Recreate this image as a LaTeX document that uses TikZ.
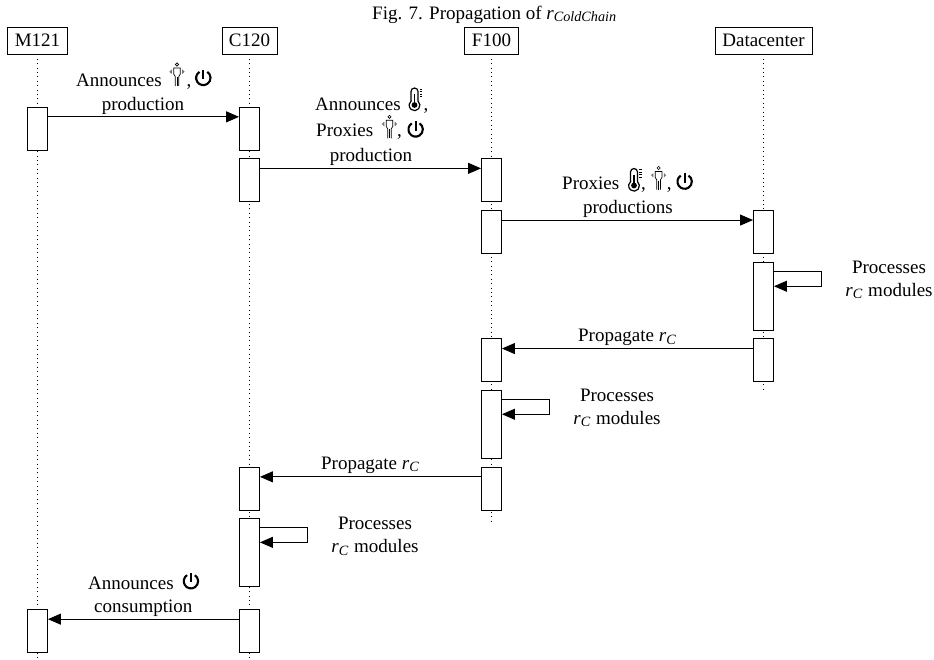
\documentclass[tikz,border=0pt]{standalone}
\usepackage{fontspec}
\setmainfont{Liberation Serif}
\usetikzlibrary{arrows.meta,calc}
\newcommand{\mainsize}{\fontsize{19}{23.5}\selectfont}
\newcommand{\subsize}{\fontsize{14.2}{15}\selectfont}
\newcommand{\subr}[1]{\textit{r}\raisebox{-2.6pt}{\subsize\textit{#1}}}
\tikzset{
  actor/.style={draw=black,line width=0.9pt,fill=white,minimum height=27pt,inner sep=0pt,font=\mainsize},
  bar/.style={draw=black,line width=0.9pt,fill=white,minimum width=20pt,inner sep=0pt},
  life/.style={draw=black,line width=0.7pt,dash pattern=on 0.9pt off 3.5pt},
  msg/.style={draw=black,line width=1pt,-{Triangle[length=13pt,width=11pt]}},
  lbl/.style={inner sep=0pt,anchor=base,font=\mainsize},
  lblw/.style={inner sep=0pt,anchor=base west,font=\mainsize},
}
\newcommand{\powericon}[1]{
  \begin{scope}[shift={(#1)}]
    \draw[line width=2.1pt] (-3.98,-6.12) arc[start angle=237,end angle=-57,radius=7.2];
    \draw[line width=2.1pt] (0,-8.3) -- (0,1);
  \end{scope}}
\newcommand{\thermoicon}[1]{
  \begin{scope}[shift={(#1)}]
    \draw[line width=1.2pt] (-3.5,2.1) -- (-3.5,-7.5) arc[start angle=180,end angle=360,radius=3.5] -- (3.5,2.1)
      arc[start angle=-50,end angle=230,radius=5.4] -- cycle;
    \fill (0,6) circle (2.9);
    \draw[line width=1.3pt] (0,6) -- (0,-5);
    \draw[line width=0.8pt] (5.3,-10) -- (7.8,-10) (5.3,-7.5) -- (7.8,-7.5) (5.3,-5) -- (7.8,-5) (5.3,-2.5) -- (7.8,-2.5);
  \end{scope}}
\newcommand{\personicon}[1]{
  \begin{scope}[shift={(#1)}]
    \draw[line width=0.6pt] (0,-10.5) circle (1.6);
    \draw[line width=0.7pt] (-1.8,11) -- (-1.8,1.5) -- (-3.3,-1) -- (-3.3,-7) -- (3.3,-7) -- (3.3,-1) -- (1.8,1.5) -- (1.8,11);
    \draw[line width=0.6pt] (0,2) -- (0,11);
    \fill[black!55] (-7.6,-3.3) -- (-5.2,-5.6) -- (-5.2,-1) -- cycle (7.6,-3.3) -- (5.2,-5.6) -- (5.2,-1) -- cycle;
  \end{scope}}
\begin{document}
\begin{tikzpicture}[x=1pt,y=-1pt]
\useasboundingbox (0,0) rectangle (934,659);

\node[lblw] (title) at (372,19) {Fig. 7. Propagation of \textit{r}\raisebox{-2.6pt}{\subsize\textit{ColdChain}}};

% actors
\node[actor,minimum width=60pt] (m) at (37.5,40.5) {M121};
\node[actor,minimum width=55pt] (c) at (249.5,40.5) {C120};
\node[actor,minimum width=53.5pt] (f) at (491.5,40.5) {F100};
\node[actor,minimum width=97pt] (d) at (763.5,40.5) {Datacenter};

% lifeline ends
\coordinate (mend) at (37.5,659);
\coordinate (cend) at (249.5,659);
\coordinate (fend) at (491.5,522);
\coordinate (dend) at (763.5,393);
\draw[life] (m.south) -- (mend);
\draw[life] (c.south) -- (cend);
\draw[life] (f.south) -- (fend);
\draw[life] (d.south) -- (dend);

% activation bars
\node[bar,minimum height=43pt] (m1) at (37.5,128.5) {};
\node[bar,minimum height=43pt] (c1) at (249.5,128.5) {};
\node[bar,minimum height=43pt] (c2) at (249.5,180) {};
\node[bar,minimum height=43pt] (f1) at (491.5,180) {};
\node[bar,minimum height=43pt] (f2) at (491.5,231.7) {};
\node[bar,minimum height=43pt] (d1) at (763.5,231.7) {};
\node[bar,minimum height=68pt] (d2) at (763.5,296.2) {};
\node[bar,minimum height=43pt] (d3) at (763.5,360.2) {};
\node[bar,minimum height=43pt] (f3) at (491.5,360.2) {};
\node[bar,minimum height=68pt] (f4) at (491.5,424.2) {};
\node[bar,minimum height=43pt] (f5) at (491.5,488.5) {};
\node[bar,minimum height=43pt] (c3) at (249.5,488.5) {};
\node[bar,minimum height=68pt] (c4) at (249.5,552.3) {};
\node[bar,minimum height=43pt] (c5) at (249.5,630.8) {};
\node[bar,minimum height=43pt] (m2) at (37.5,630.8) {};

% messages
\draw[msg] ($(m1.north east)+(0,10.3)$) -- ($(c1.north west)+(0,10.3)$);
\draw[msg] ($(c2.north east)+(0,10.3)$) -- ($(f1.north west)+(0,10.3)$);
\draw[msg] ($(f2.north east)+(0,10.3)$) -- ($(d1.north west)+(0,10.3)$);
\draw[msg] ($(d3.north west)+(0,10.3)$) -- ($(f3.north east)+(0,10.3)$);
\draw[msg] ($(f5.north west)+(0,10.3)$) -- ($(c3.north east)+(0,10.3)$);
\draw[msg] ($(c5.north west)+(0,10.3)$) -- ($(m2.north east)+(0,10.3)$);

% self messages
\draw[msg] ($(d2.north east)+(0,10)$) -| ++(48,14.5) -- ($(d2.north east)+(0,24.5)$);
\draw[msg] ($(f4.north east)+(0,10)$) -| ++(48,14.5) -- ($(f4.north east)+(0,24.5)$);
\draw[msg] ($(c4.north east)+(0,10)$) -| ++(48,14.5) -- ($(c4.north east)+(0,24.5)$);

% labels
\node[lblw] (l1a) at (76,86) {Announces\hspace{25pt},};
\node[lbl] (l1b) at (143,110) {production};
\personicon{177,75}
\powericon{203.4,78}

\node[lblw] (l2a) at (315,110) {Announces\hspace{23pt},};
\node[lblw] (l2b) at (316,136.7) {Proxies\hspace{24pt},};
\node[lbl] (l2c) at (371,161) {production};
\thermoicon{414.5,99}
\personicon{389.5,127.3}
\powericon{415.7,129.5}

\node[lblw] (l3a) at (562,189.3) {Proxies\hspace{22pt},\hspace{21pt},};
\node[lbl] (l3b) at (628,213) {productions};
\thermoicon{634,179.5}
\personicon{658.6,178.5}
\powericon{684.7,181.7}

\node[lbl] (l4a) at (889,273) {Processes};
\node[lbl] (l4b) at (889,296) {\subr{C}\hspace{1pt} modules};
\node[lbl] (l5) at (627,341.7) {Propagate \subr{C}};
\node[lbl] (l6a) at (617,401) {Processes};
\node[lbl] (l6b) at (617,424.3) {\subr{C}\hspace{1pt} modules};
\node[lbl] (l7) at (370,469.3) {Propagate \subr{C}};
\node[lbl] (l8a) at (375,529.3) {Processes};
\node[lbl] (l8b) at (375,552.7) {\subr{C}\hspace{1pt} modules};

\node[lblw] (l9a) at (88,589) {Announces};
\node[lbl] (l9b) at (143.3,612.7) {consumption};
\powericon{191,581.3}
\end{tikzpicture}
\end{document}
